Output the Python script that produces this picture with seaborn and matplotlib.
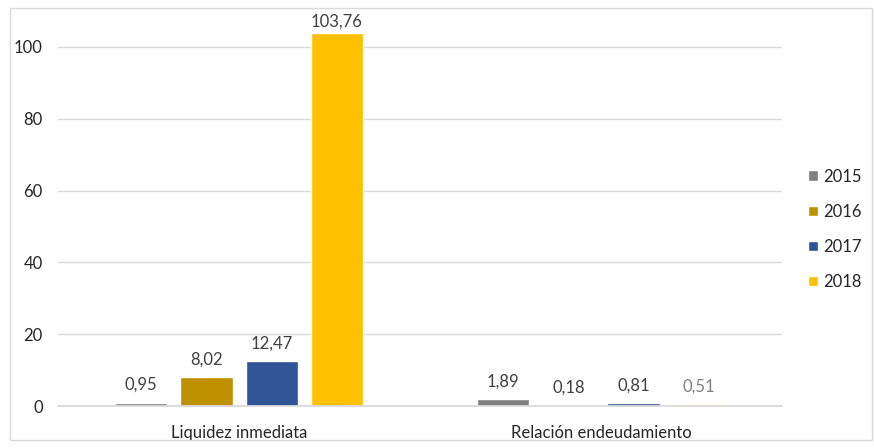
import pandas as pd
import matplotlib.pyplot as plt
import seaborn as sns
from matplotlib.patches import Rectangle

# chart data
indicadores = ["Liquidez inmediata", "Relación endeudamiento"]
years = ["2015", "2016", "2017", "2018"]
liquidez = [0.95, 8.02, 12.47, 103.76]
endeudamiento = [1.89, 0.18, 0.81, 0.51]
colors = ["#7F7F7F", "#BF9000", "#2F5597", "#FFC000"]

df = pd.DataFrame({
    "indicador": [indicadores[0]] * 4 + [indicadores[1]] * 4,
    "year": years + years,
    "valor": liquidez + endeudamiento,
})

sns.set_theme(style="white")
plt.rcParams["font.family"] = ["Lato", "DejaVu Sans"]

fig = plt.figure(figsize=(8.74, 4.48), dpi=100)
ax = fig.add_axes([0.0664, 0.09375, 0.8283, 0.8393])

sns.barplot(data=df, x="indicador", y="valor", hue="year", order=indicadores,
            hue_order=years, palette=colors, width=0.72, gap=0.2,
            saturation=1, ax=ax)

# data labels
for cont in ax.containers:
    texts = ax.bar_label(cont, labels=[f"{v:.2f}".replace(".", ",") for v in cont.datavalues],
                         padding=7, fontsize=12, color="#404040")
    for t, v in zip(texts, cont.datavalues):
        if v > 100:
            # excel squeezes the top label against the plot edge
            t.xyann = (0, 3)
        if v == 0.51:
            t.set_color("#808080")

ax.set_xlim(-0.5, 1.5)
ax.set_ylim(0, 104.7)
ax.set_yticks([0, 20, 40, 60, 80, 100])
ax.yaxis.grid(True, color="#D9D9D9", linewidth=1)
ax.set_axisbelow(True)
ax.tick_params(axis="both", length=0, labelsize=12, labelcolor="#262626")
ax.tick_params(axis="x", pad=14)
ax.tick_params(axis="y", pad=11)
ax.set(xlabel="", ylabel="")
sns.despine(left=True, top=True, right=True, bottom=False)
ax.spines["bottom"].set_color("#D9D9D9")

ax.legend(loc="center left", bbox_to_anchor=(1.015, 0.47), frameon=False,
          handlelength=0.6, handleheight=0.6, handletextpad=0.3,
          labelspacing=1.15, fontsize=12)

# chart border
fig.patches.append(Rectangle((10 / 874, 8 / 448), 862 / 874, 432 / 448,
                             transform=fig.transFigure, fill=False,
                             edgecolor="#D9D9D9", linewidth=1))

plt.savefig("out.png", dpi=100)
